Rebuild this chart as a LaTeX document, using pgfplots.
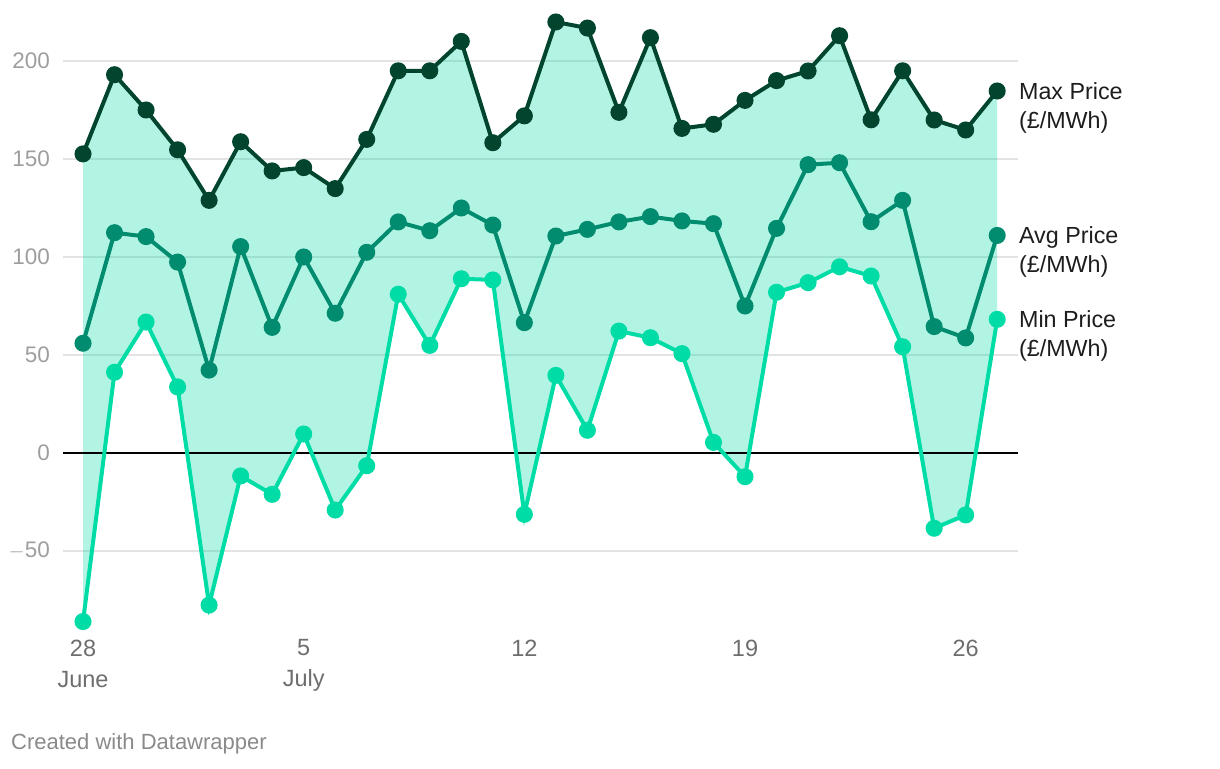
\documentclass[border=0pt]{standalone}
\usepackage{pgfplots}
\pgfplotsset{compat=1.18}
\usepgfplotslibrary{fillbetween}
\usepackage{fontspec}
\setmainfont{Liberation Sans}
\definecolor{maxc}{HTML}{01452E}
\definecolor{avgc}{HTML}{018B6F}
\definecolor{minc}{HTML}{00DCA6}
\definecolor{gridc}{HTML}{E3E3E3}
\definecolor{ytc}{HTML}{9E9E9E}
\definecolor{xtc}{HTML}{6E6E6E}
\definecolor{labc}{HTML}{1D1D1D}
\definecolor{credc}{HTML}{8A8A8A}
\pgfplotstableread{
x max avg min
0 152.6 56.0 -86.0
1 193.0 112.4 41.2
2 175.0 110.4 66.8
3 154.7 97.4 33.7
4 128.9 42.3 -77.6
5 158.8 105.3 -11.7
6 143.9 64.1 -21.1
7 145.6 100.0 9.7
8 134.9 71.3 -29.1
9 160.0 102.4 -6.5
10 195.0 117.9 81.0
11 195.0 113.4 54.9
12 210.0 125.0 88.9
13 158.3 116.3 88.3
14 172.0 66.5 -31.3
15 219.9 110.7 39.6
16 216.8 114.1 11.6
17 173.8 117.9 62.2
18 211.9 120.6 58.8
19 165.6 118.4 50.7
20 167.7 117.0 5.4
21 179.9 75.0 -12.1
22 190.0 114.6 82.0
23 194.9 147.1 86.9
24 212.9 148.1 95.0
25 170.0 118.0 90.3
26 195.0 128.9 54.2
27 169.9 64.5 -38.4
28 164.8 58.7 -31.6
29 184.7 111.0 68.2
}\datatable
\begin{document}
\begin{tikzpicture}[x=1pt,y=1pt]
\path (0,0) rectangle (1220,768);
\begin{axis}[
  at={(63pt,138.6pt)}, anchor=south west,
  scale only axis, width=955pt, height=607.6pt,
  xmin=-0.635, xmax=29.66, ymin=-90, ymax=220,
  clip=false,
  axis line style={draw=none},
  tick style={draw=none},
  ytick={-50,0,50,100,150,200},
  yticklabels={$-$50,0,50,100,150,200},
  ymajorgrids,
  grid style={gridc, line width=1.3pt},
  /pgf/number format/assume math mode=true,
  yticklabel style={font=\fontsize{22.5}{26}\selectfont, text=ytc, inner sep=0pt, xshift=-13pt},
  xtick={0,7,14,21,28},
  xticklabels={{28\\June},{5\\July},12,19,26},
  xticklabel style={font=\fontsize{23.5}{31}\selectfont, text=xtc, align=center, inner sep=0pt, yshift=-10pt},
]
\addplot[name path=maxp, draw=none, forget plot] table[x=x,y=max]{\datatable};
\addplot[name path=minp, draw=none, forget plot] table[x=x,y=min]{\datatable};
\addplot[minc, fill opacity=0.3, draw=none] fill between[of=maxp and minp];
\addplot[black, line width=1.6pt] coordinates {(-0.635,0) (29.66,0)};
\addplot[maxc, line width=4pt, mark=*, mark size=6.5pt, mark options={solid}] table[x=x,y=max]{\datatable};
\addplot[avgc, line width=4pt, mark=*, mark size=6.5pt, mark options={solid}] table[x=x,y=avg]{\datatable};
\addplot[minc, line width=4pt, mark=*, mark size=6.5pt, mark options={solid}] table[x=x,y=min]{\datatable};
\node[anchor=base west, font=\fontsize{23.3}{29}\selectfont, text=labc, inner sep=0pt, xshift=21.7pt, yshift=-8.3pt] at (axis cs:29,184.7) {Max Price};
\node[anchor=base west, font=\fontsize{23.3}{29}\selectfont, text=labc, inner sep=0pt, xshift=21.7pt, yshift=-37.3pt] at (axis cs:29,184.7) {(£/MWh)};
\node[anchor=base west, font=\fontsize{23.3}{29}\selectfont, text=labc, inner sep=0pt, xshift=21.7pt, yshift=-8.3pt] at (axis cs:29,111.0) {Avg Price};
\node[anchor=base west, font=\fontsize{23.3}{29}\selectfont, text=labc, inner sep=0pt, xshift=21.7pt, yshift=-37.3pt] at (axis cs:29,111.0) {(£/MWh)};
\node[anchor=base west, font=\fontsize{23.3}{29}\selectfont, text=labc, inner sep=0pt, xshift=21.7pt, yshift=-8.3pt] at (axis cs:29,68.2) {Min Price};
\node[anchor=base west, font=\fontsize{23.3}{29}\selectfont, text=labc, inner sep=0pt, xshift=21.7pt, yshift=-37.3pt] at (axis cs:29,68.2) {(£/MWh)};
\end{axis}
\node[anchor=west, font=\fontsize{22}{26}\selectfont, text=credc, inner sep=0pt] at (11,24) {Created with Datawrapper};
\end{tikzpicture}
\end{document}
